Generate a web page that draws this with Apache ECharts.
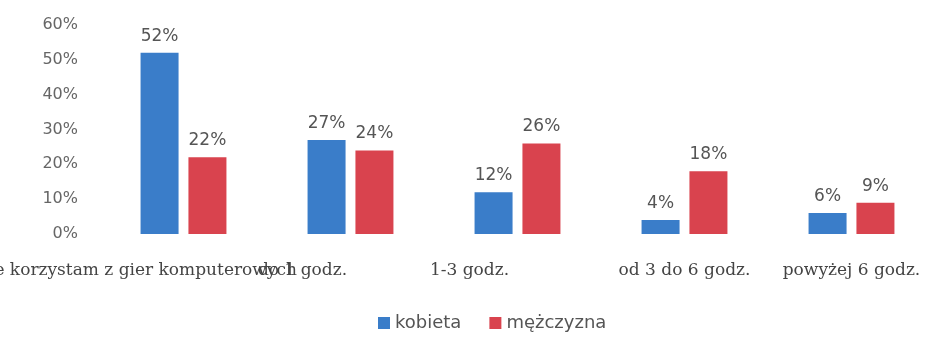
<!DOCTYPE html>
<html>
<head>
<meta charset="utf-8">
<script src="https://cdn.jsdelivr.net/npm/echarts@6/dist/echarts.min.js"></script>
<style>
  html, body { margin: 0; padding: 0; background: #fff; }
  #chart { width: 929px; height: 345px; }
</style>
</head>
<body>
<div id="chart"></div>
<script>
// dane
const categories = ['Nie korzystam z gier komputerowych', 'do 1 godz.', '1-3 godz.', 'od 3 do 6 godz.', 'powyżej 6 godz.']
const kobieta = [52, 27, 12, 4, 6]
const mezczyzna = [22, 24, 26, 18, 9]
const seriesNames = ['kobieta', 'mężczyzna']

const chart = echarts.init(document.getElementById('chart'))

const labelStyle = {
  show: true,
  position: 'top',
  distance: 8,
  formatter: '{c}%',
  color: '#555',
  fontSize: 17,
  fontFamily: 'DejaVu Sans'
}

chart.setOption({
  animation: false,
  grid: {
    left: 100,
    top: 25,
    width: 835,
    bottom: 111,
    containLabel: false,
    outerBoundsMode: 'none'
  },
  legend: {
    data: seriesNames,
    bottom: 8,
    left: 373,
    itemWidth: 12,
    itemHeight: 12,
    itemGap: 28,
    icon: 'rect',
    textStyle: { color: '#555', fontSize: 18, fontFamily: 'DejaVu Sans' }
  },
  xAxis: {
    type: 'category',
    data: categories,
    axisLine: { show: false },
    axisTick: { show: false },
    axisLabel: {
      interval: 0,
      margin: 28,
      color: '#444',
      fontSize: 17,
      fontFamily: 'DejaVu Serif',
      hideOverlap: false,
      // w oryginale pierwsze trzy etykiety są przesunięte w lewo
      formatter: (v, i) => i < 3 ? '{s|' + v + '}' : v,
      rich: {
        s: { padding: [0, 96, 0, 0], fontSize: 17, fontFamily: 'DejaVu Serif', color: '#444' }
      }
    }
  },
  yAxis: {
    type: 'value',
    min: 0,
    max: 60,
    interval: 10,
    axisLabel: {
      formatter: '{value}%',
      margin: 22,
      color: '#666',
      fontSize: 16,
      fontFamily: 'DejaVu Sans'
    },
    splitLine: { show: false },
    axisLine: { show: false },
    axisTick: { show: false }
  },
  series: [
    {
      name: seriesNames[0],
      type: 'bar',
      data: kobieta,
      barWidth: 38,
      barGap: '26%',
      itemStyle: { color: '#3a7dc9' },
      label: labelStyle
    },
    {
      name: seriesNames[1],
      type: 'bar',
      data: mezczyzna,
      barWidth: 38,
      itemStyle: { color: '#d9434e' },
      label: labelStyle
    }
  ]
})
</script>
</body>
</html>
